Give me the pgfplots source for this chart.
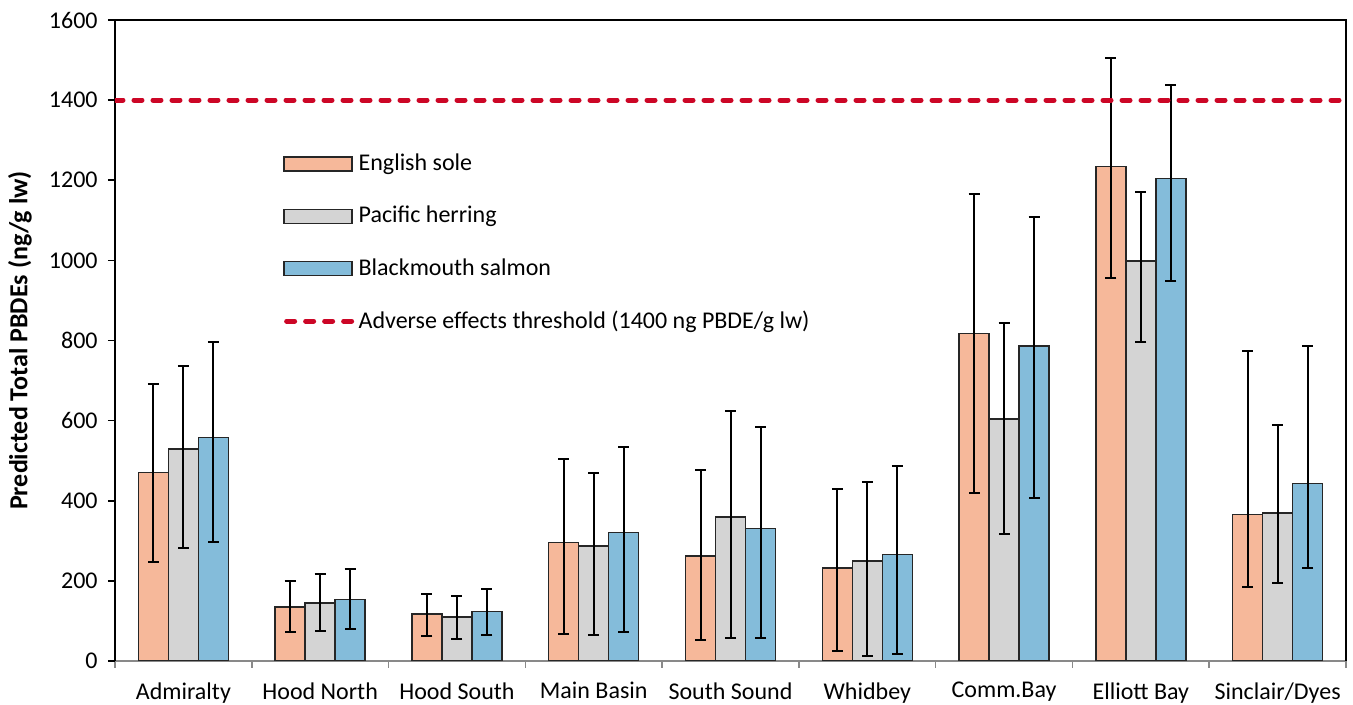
\documentclass[border=0pt]{standalone}
\usepackage{pgfplots}
\pgfplotsset{compat=1.18}
\usepackage{pgfplotstable}
\usepackage{fontspec}
\setmainfont{Carlito}
\definecolor{esole}{RGB}{246,184,154}
\definecolor{pherring}{RGB}{212,212,212}
\definecolor{bsalmon}{RGB}{132,188,218}
\definecolor{thr}{RGB}{204,6,38}
\definecolor{axgrey}{RGB}{137,137,137}

\pgfplotstableread{
x y hi lo
0 470 691 248
1 135 200 72
2 117 166 62
3 296 505 68
4 262 477 52
5 232 429 26
6 818 1166 420
7 1234 1504 957
8 365 775 185
}\es
\pgfplotstableread{
x y hi lo
0 529 737 283
1 145 216 74
2 110 161 56
3 287 470 64
4 359 623 57
5 250 448 12
6 604 844 317
7 998 1170 795
8 369 588 194
}\ph
\pgfplotstableread{
x y hi lo
0 558 795 296
1 154 229 81
2 123 180 64
3 321 535 73
4 331 584 57
5 266 486 18
6 786 1109 408
7 1205 1438 948
8 443 787 231
}\bs

\begin{document}
\fontsize{12pt}{14.4pt}\selectfont
\begin{tikzpicture}
\path[use as bounding box] (-57.5pt,-22pt) rectangle (619pt,330.5pt);
\begin{axis}[
  at={(0pt,0pt)}, anchor=south west,
  scale only axis,
  width=615.5pt, height=320.5pt,
  xmin=-0.5, xmax=8.5,
  ymin=0, ymax=1600,
  ytick={0,200,...,1600},
  xtick={-0.5,0.5,...,8.5},
  x tick label as interval=true,
  xticklabels={Admiralty,Hood North,Hood South,Main Basin,South Sound,Whidbey,Comm.Bay,Elliott Bay,Sinclair/Dyes},
  xtick pos=bottom, ytick pos=left,
  tick align=outside,
  major tick length=3.5pt,
  separate axis lines,
  x axis line style={axgrey, line width=1pt},
  y axis line style={black, line width=1pt},
  xtick style={axgrey, line width=0.8pt},
  ytick style={black, line width=0.8pt},
  ticklabel style={font=\fontsize{12pt}{14.4pt}\selectfont},
  /pgf/number format/assume math mode=true,
  /pgf/number format/1000 sep={},
  xticklabel style={yshift=-3pt},
  yticklabel style={xshift=-1pt},
  ylabel={\bfseries Predicted Total PBDEs (ng/g lw)},
  ylabel style={at={(axis description cs:-0.0772,0.5)}, anchor=center, font=\fontsize{13pt}{15.5pt}\selectfont},
  ybar=0pt, bar width=15pt,
  every axis plot/.append style={line width=0.7pt},
  legend style={at={(axis description cs:0.1365,0.798)}, anchor=north west, draw=none, fill=none, inner sep=0pt, row sep=12pt, font=\fontsize{12pt}{14.4pt}\selectfont},
  legend cell align=left,
  after end axis/.code={\draw[black,line width=1pt] (rel axis cs:0,1) -- (rel axis cs:1,1) -- (rel axis cs:1,0);},
  error bars/y dir=both,
  error bars/y explicit,
  error bars/error bar style={black, line width=1pt},
  error bars/error mark options={rotate=90, mark size=2.75pt, line width=1pt, black},
]
\addplot[fill=esole, draw=black!85, legend image code/.code={\draw[fill=esole,draw=black!85,line width=0.7pt] (0pt,-3.5pt) rectangle (34pt,3.5pt);}]
  table[x=x, y=y, y error plus expr=\thisrow{hi}-\thisrow{y}, y error minus expr=\thisrow{y}-\thisrow{lo}] {\es};
\addlegendentry{English sole}
\addplot[fill=pherring, draw=black!85, legend image code/.code={\draw[fill=pherring,draw=black!85,line width=0.7pt] (0pt,-3.5pt) rectangle (34pt,3.5pt);}]
  table[x=x, y=y, y error plus expr=\thisrow{hi}-\thisrow{y}, y error minus expr=\thisrow{y}-\thisrow{lo}] {\ph};
\addlegendentry{Pacific herring}
\addplot[fill=bsalmon, draw=black!85, legend image code/.code={\draw[fill=bsalmon,draw=black!85,line width=0.7pt] (0pt,-3.5pt) rectangle (34pt,3.5pt);}]
  table[x=x, y=y, y error plus expr=\thisrow{hi}-\thisrow{y}, y error minus expr=\thisrow{y}-\thisrow{lo}] {\bs};
\addlegendentry{Blackmouth salmon}
\addplot[sharp plot, thr, line width=2.5pt, line cap=round, dash pattern=on 4pt off 5.5pt,
  legend image code/.code={\draw[thr,line width=2.5pt,line cap=round,dash pattern=on 4pt off 5.5pt] (1.25pt,0pt) -- (34pt,0pt);}]
  coordinates {(-0.5,1400) (8.5,1400)};
\addlegendentry{Adverse effects threshold (1400 ng PBDE/g lw)}
\end{axis}
\end{tikzpicture}
\end{document}
